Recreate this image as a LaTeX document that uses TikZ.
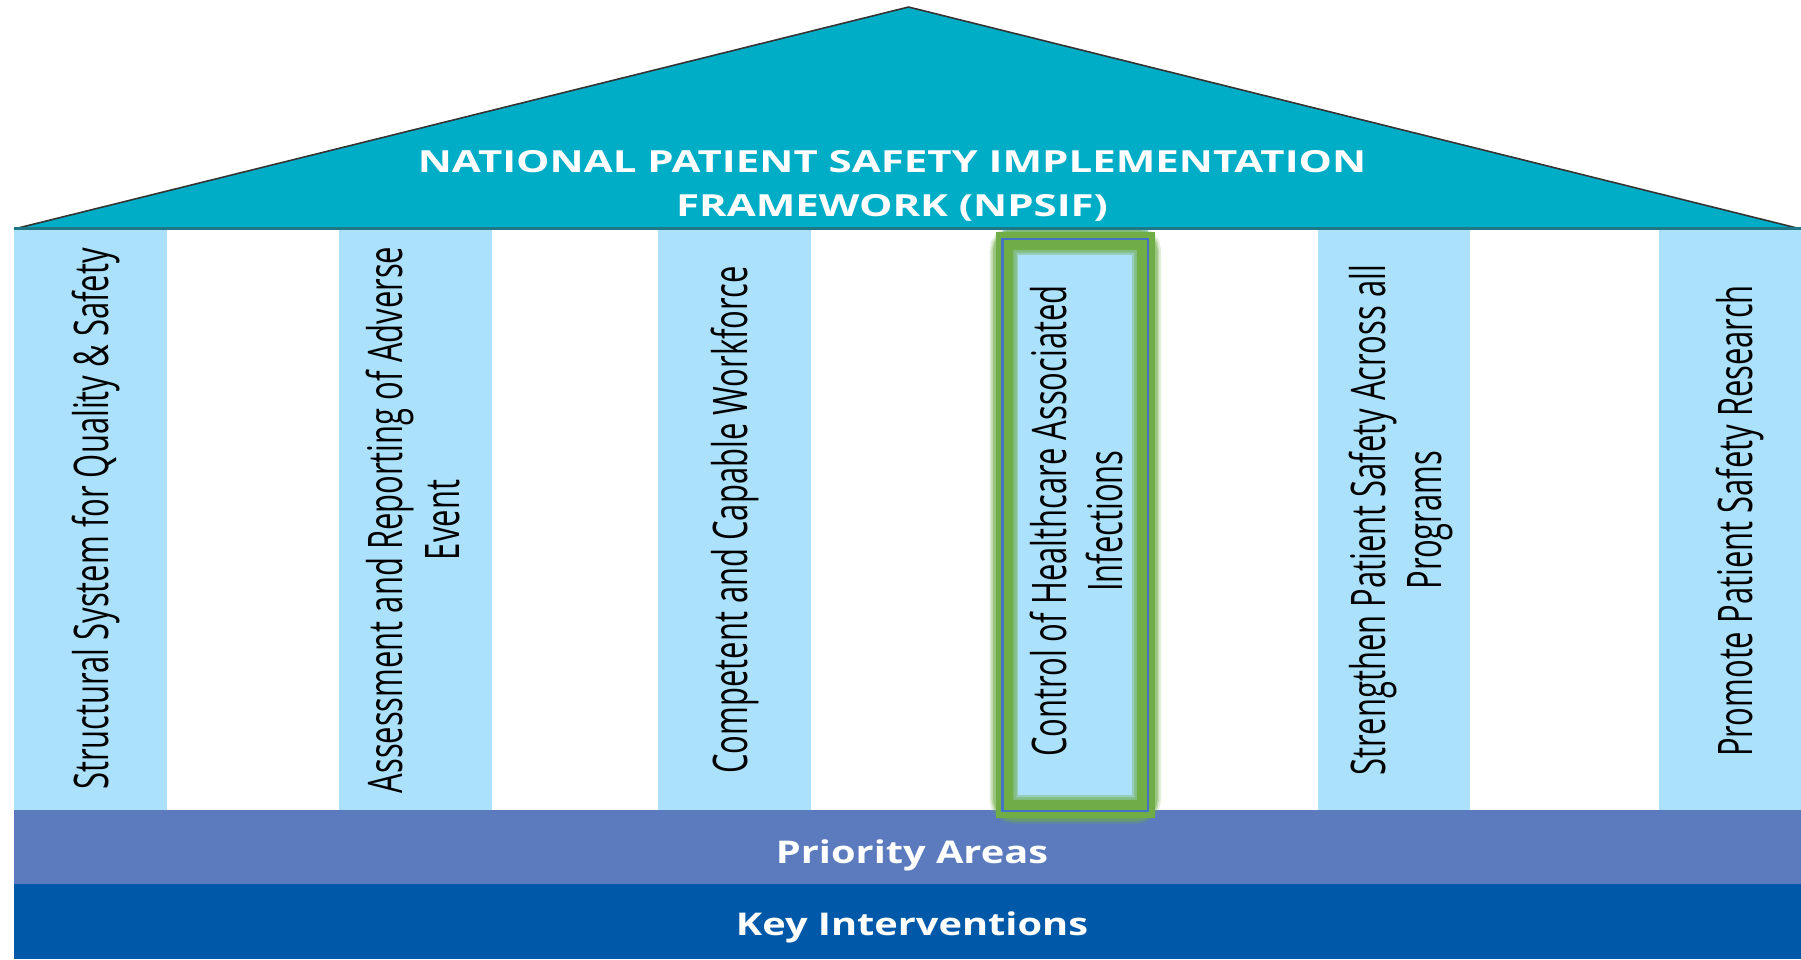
\documentclass[tikz,border=0pt]{standalone}
\usepackage{fontspec}
\setmainfont{Open Sans}
\newfontfamily\pillarfont[FakeStretch=0.65]{Open Sans}
\newfontfamily\headfont[FakeStretch=1.27]{Open Sans}
\newfontfamily\titlefont[FakeStretch=1.38]{Open Sans}
\definecolor{roofteal}{RGB}{0,173,198}
\definecolor{roofedge}{RGB}{30,120,135}
\definecolor{pillarblue}{RGB}{171,225,250}
\definecolor{prioband}{RGB}{91,123,190}
\definecolor{keyband}{RGB}{0,89,168}
\definecolor{glowgreen}{RGB}{112,173,71}
\definecolor{framblue}{RGB}{68,114,196}
\tikzset{
  pillartext/.style={rotate=90, align=center, inner sep=0pt, text=black,
    font=\pillarfont\fontsize{13.55pt}{15.93pt}\selectfont},
  headtext/.style={anchor=base, inner sep=0pt, text=white,
    font=\titlefont\bfseries\fontsize{8.65pt}{12.43pt}\selectfont},
  bandtext/.style={anchor=base, inner sep=0pt, text=white,
    font=\headfont\bfseries\fontsize{8.9pt}{11pt}\selectfont},
  glow/.style={draw=glowgreen, rounded corners=1.2mm}
}
\begin{document}
\begin{tikzpicture}[x=0.01cm,y=-0.01cm]
\useasboundingbox (0,0) rectangle (1801,959);
\fill[white] (0,0) rectangle (1801,959);
% pillars
\fill[pillarblue] (14,230) rectangle (167,810);
\fill[pillarblue] (339,230) rectangle (492,810);
\fill[pillarblue] (658,230) rectangle (811,810);
\fill[pillarblue] (1003,230) rectangle (1148,810);
\fill[pillarblue] (1318,230) rectangle (1470,810);
\fill[pillarblue] (1659,230) rectangle (1801,810);
% bands
\fill[prioband] (14,810) rectangle (1801,884);
\fill[keyband] (14,884) rectangle (1801,959);
% highlight glow: outer fade
\draw[glow, line width=7.4pt, opacity=0.2] (1002.5,239) rectangle (1148,811);
\draw[glow, line width=6.3pt, opacity=0.3] (1002.5,239) rectangle (1148,811);
\draw[glow, line width=5.4pt, opacity=0.45] (1002.5,239) rectangle (1148,811);
% opaque core
\draw[draw=glowgreen, line width=5.1pt] (1004.5,241) rectangle (1146,809);
% inner fade
\draw[draw=glowgreen, line width=2.8pt, opacity=0.35] (1013.5,250) rectangle (1137,800);
\draw[draw=glowgreen, line width=1.7pt, opacity=0.35] (1013.5,250) rectangle (1137,800);
\draw[framblue, line width=0.6pt] (1002.5,239) rectangle (1148,811);
% roof
\fill[roofteal] (14,229) -- (908.5,7) -- (1801,229) -- cycle;
\draw[black!80, line width=0.45pt] (14,229) -- (908.5,7) -- (1801,229);
\draw[roofedge, line width=0.6pt] (14,228.5) -- (1801,228.5);
% title
\node[headtext] (title1) at (892,172.3) {NATIONAL PATIENT SAFETY IMPLEMENTATION};
\node[headtext] (title2) at (892,216.3) {FRAMEWORK (NPSIF)};
% pillar texts
\node[pillartext] (p1) at (96,519) {Structural System for Quality \& Safety};
\node[pillartext] (p2) at (413,520) {Assessment and Reporting of Adverse\\Event};
\node[pillartext] (p3) at (735,520) {Competent and Capable Workforce};
\node[pillartext] (p4) at (1076.5,521) {Control of Healthcare Associated\\Infections};
\node[pillartext] (p5) at (1400.5,520) {Strengthen Patient Safety Across all\\Programs};
\node[pillartext] (p6) at (1739.5,521) {Promote Patient Safety Research};
% bands text
\node[bandtext] (prio) at (912,863.3) {Priority Areas};
\node[bandtext] (key) at (912,935.5) {Key Interventions};
\end{tikzpicture}
\end{document}
